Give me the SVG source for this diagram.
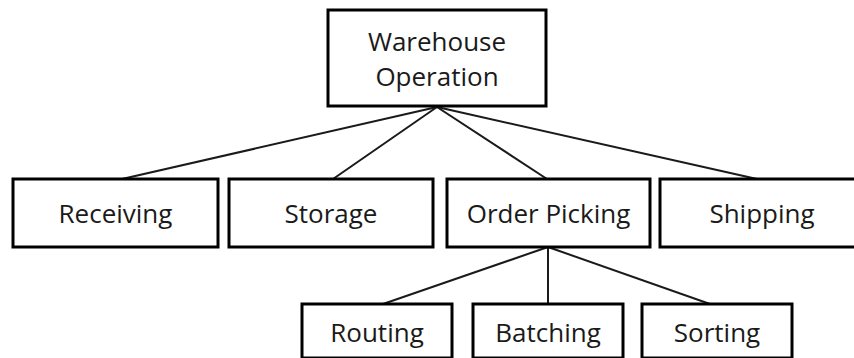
<svg xmlns="http://www.w3.org/2000/svg" width="854" height="358" viewBox="0 0 854 358">
<style>
.box{fill:#fff;stroke:#000;stroke-width:3}
.lbl{font-family:"Open Sans","Liberation Sans",sans-serif;font-size:26px;fill:#1a1a1a;text-anchor:middle}
.con{stroke:#1a1a1a;stroke-width:2;fill:none}
</style>
<rect width="854" height="358" fill="#fff"/>
<g id="connectors">
<line class="con" x1="437" y1="107" x2="122" y2="179"/>
<line class="con" x1="437" y1="107" x2="333" y2="179"/>
<line class="con" x1="437" y1="107" x2="547" y2="179"/>
<line class="con" x1="437" y1="107" x2="757" y2="179"/>
<line class="con" x1="548" y1="247" x2="383" y2="304"/>
<line class="con" x1="548" y1="247" x2="548" y2="304"/>
<line class="con" x1="548" y1="247" x2="710" y2="304"/>
</g>
<g id="warehouse">
<rect class="box" x="328" y="10" width="218" height="96"/>
<text class="lbl" x="437" y="51">Warehouse</text>
<text class="lbl" x="437" y="86">Operation</text>
</g>
<g id="receiving">
<rect class="box" x="13" y="179" width="205" height="68"/>
<text class="lbl" x="115.5" y="223">Receiving</text>
</g>
<g id="storage">
<rect class="box" x="229" y="179" width="204" height="68"/>
<text class="lbl" x="331" y="223">Storage</text>
</g>
<g id="orderpicking">
<rect class="box" x="447" y="179" width="203" height="68"/>
<text class="lbl" x="548.5" y="223">Order Picking</text>
</g>
<g id="shipping">
<rect class="box" x="660" y="179" width="204" height="68"/>
<text class="lbl" x="762" y="223">Shipping</text>
</g>
<g id="routing">
<rect class="box" x="302" y="304" width="150" height="54"/>
<text class="lbl" x="377" y="342">Routing</text>
</g>
<g id="batching">
<rect class="box" x="473" y="304" width="150" height="54"/>
<text class="lbl" x="548" y="342">Batching</text>
</g>
<g id="sorting">
<rect class="box" x="642" y="304" width="150" height="54"/>
<text class="lbl" x="717" y="342">Sorting</text>
</g>
</svg>
